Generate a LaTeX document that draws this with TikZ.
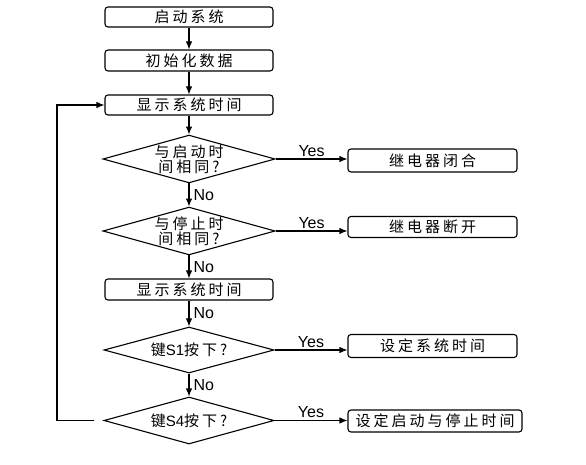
\documentclass[tikz,border=0pt]{standalone}
\usepackage{fontspec}
\setmainfont{Liberation Sans}
\newfontfamily\cjk[LetterSpace=20]{Noto Sans CJK SC}
\usetikzlibrary{shapes.geometric,arrows.meta}
\tikzset{
	proc/.style={shape=rectangle, draw, line width=1.1pt, rounded corners=3pt, inner sep=0, minimum width=168pt, minimum height=21pt, font=\fontsize{15}{15}\cjk},
	dec/.style={shape=diamond, draw, line width=1.1pt, inner sep=0, aspect=3.6, minimum width=170pt, minimum height=47pt, align=center, font=\fontsize{15}{13.5}\cjk},
	wire/.style={line width=1.1pt, -{Latex[length=8pt, width=6.5pt]}},
	lbl/.style={font=\fontsize{16}{16}\selectfont, inner sep=1pt}
}
\begin{document}
\begin{tikzpicture}[x=1pt, y=-1pt]
	\useasboundingbox (0, 0) rectangle (586, 465);
	% Boxes, decisions and arrows:
	\node[proc, minimum height=20pt] (Rect1) at (189, 17) {启动系统};
	\node[proc] (Rect2) at (189, 60.5) {初始化数据};
	\node[proc, minimum height=20pt] (Rect3) at (189, 105) {显示系统时间};
	\node[dec] (Dia1) at (189, 159) {与启动时\\间相同?};
	\node[proc, minimum width=169pt, minimum height=23pt] (Rect4) at (432.5, 160.5) {继电器闭合};
	\node[dec] (Dia2) at (189, 231) {与停止时\\间相同?};
	\node[proc, minimum width=169pt] (Rect5) at (432.5, 227) {继电器断开};
	\node[proc] (Rect6) at (189, 289.5) {显示系统时间};
	\node[dec, minimum height=46pt] (Dia3) at (189, 350) {键{\rmfamily S1}按下?};
	\node[proc, minimum width=169pt, minimum height=23pt] (Rect7) at (432.5, 346) {设定系统时间};
	\node[dec] (Dia4) at (189, 420.5) {键{\rmfamily S4}按下?};
	\node[proc, minimum width=174pt, minimum height=22pt] (Rect8) at (435, 421) {设定启动与停止时间};
	\coordinate (Loop) at (57, 105);
	\draw[wire] (Rect1) -- (Rect2);
	\draw[wire] (Rect2) -- (Rect3);
	\draw[wire] (Rect3) -- (Dia1);
	\draw[wire] (Dia1) -- node[lbl, right, xshift=3pt] {No} (Dia2);
	\draw[wire] (Dia2) -- node[lbl, right, xshift=3pt] {No} (Rect6);
	\draw[wire] (Rect6) -- node[lbl, right, xshift=3pt] {No} (Dia3);
	\draw[wire] (Dia3) -- node[lbl, right, xshift=3pt] {No} (Dia4);
	\draw[wire] (Dia1.east) -- node[lbl, above, yshift=1pt] {Yes} (Dia1.east -| Rect4.west);
	\draw[wire] (Dia2.east) -- node[lbl, above, yshift=1pt] {Yes} (Dia2.east -| Rect5.west);
	\draw[wire] (Dia3.east) -- node[lbl, above, yshift=1pt] {Yes} (Dia3.east -| Rect7.west);
	\draw[wire] (Dia4.east) -- node[lbl, above, yshift=1pt] {Yes} (Dia4.east -| Rect8.west);
	\draw[wire, shorten <=9pt] (Dia4.west) -| (Loop) -- (Rect3.west);
\end{tikzpicture}
\end{document}
